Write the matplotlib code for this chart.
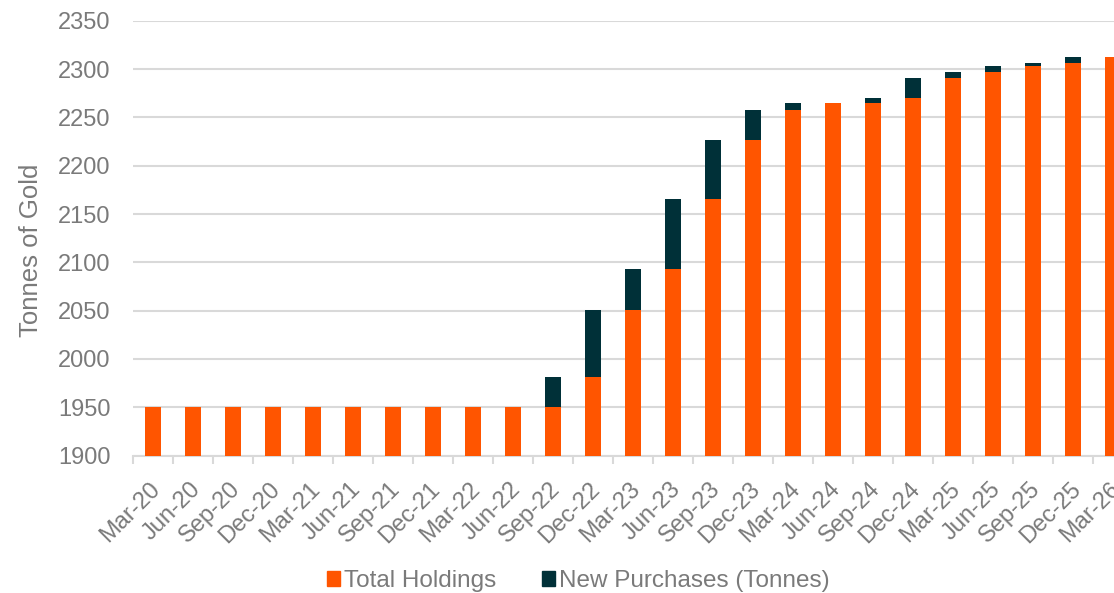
import numpy as np
import matplotlib
matplotlib.use('Agg')
import matplotlib.pyplot as plt
import matplotlib.transforms as mtransforms
from matplotlib.patches import Patch

quarters = ['Mar-20', 'Jun-20', 'Sep-20', 'Dec-20', 'Mar-21', 'Jun-21', 'Sep-21',
            'Dec-21', 'Mar-22', 'Jun-22', 'Sep-22', 'Dec-22', 'Mar-23', 'Jun-23',
            'Sep-23', 'Dec-23', 'Mar-24', 'Jun-24', 'Sep-24', 'Dec-24', 'Mar-25',
            'Jun-25', 'Sep-25', 'Dec-25', 'Mar-26']
total_holdings = [1950, 1950, 1950, 1950, 1950, 1950, 1950, 1950, 1950, 1950,
                  1950, 1981, 2051, 2093, 2166, 2227, 2258, 2265, 2265, 2270,
                  2291, 2297, 2303, 2306, 2313]
new_purchases = [0, 0, 0, 0, 0, 0, 0, 0, 0, 0,
                 31, 70, 42, 73, 61, 31, 7, 0, 5, 21,
                 6, 6, 3, 7, 0]

ORANGE = '#ff5500'
NAVY = '#003038'
TEXT = '#7a7a7a'
GRID = '#d9d9d9'

plt.rcParams['font.family'] = ['Liberation Sans', 'DejaVu Sans']

fig = plt.figure(figsize=(11.14, 5.93), dpi=100)
# plot area runs past the right edge, so the last bar is clipped
ax = fig.add_axes([0.1194, 0.2317, 0.898, 0.7331])

x = np.arange(len(quarters))
base = 1900
hold = np.array(total_holdings)
new = np.array(new_purchases)
ax.bar(x, hold - base, bottom=base, width=0.4, color=ORANGE, zorder=3)
ax.bar(x, new, bottom=hold, width=0.4, color=NAVY, zorder=3)

ax.set_ylim(1900, 2350)
ax.set_xlim(-0.5, len(quarters) - 0.5)
ax.set_yticks(np.arange(1900, 2351, 50))
ax.yaxis.grid(True, color=GRID, linewidth=1.5, zorder=0)
ax.set_axisbelow(True)

for side in ['top', 'right', 'left']:
    ax.spines[side].set_visible(False)
ax.spines['bottom'].set_color(GRID)
ax.spines['bottom'].set_linewidth(1.5)

ax.tick_params(axis='y', length=0, pad=16, labelsize=17, labelcolor=TEXT)
ax.set_xticks(x)
ax.set_xticklabels(quarters, rotation=45, ha='right', rotation_mode='anchor')
ax.set_xticks(np.arange(-0.5, len(quarters)), minor=True)
ax.tick_params(axis='x', which='major', length=0, pad=16, labelsize=17, labelcolor=TEXT)
ax.tick_params(axis='x', which='minor', length=6, width=1.5, color=GRID)
shift = mtransforms.ScaledTranslation(-4 / 100, 0, fig.dpi_scale_trans)
for lbl in ax.get_xticklabels():
    lbl.set_transform(lbl.get_transform() + shift)

fig.text(0.028, 1 - 250 / 593, 'Tonnes of Gold', rotation=90, ha='center', va='center',
         fontsize=18.5, color=TEXT)

handles = [Patch(color=ORANGE, label='Total Holdings'),
           Patch(color=NAVY, label='New Purchases (Tonnes)')]
fig.legend(handles=handles, loc='center', bbox_to_anchor=(0.519, 1 - 581 / 593),
           ncol=2, frameon=False, fontsize=17.5, labelcolor=TEXT,
           handlelength=0.55, handleheight=0.55, handletextpad=0.15, columnspacing=1.9)

fig.savefig('out.png', dpi=100)
